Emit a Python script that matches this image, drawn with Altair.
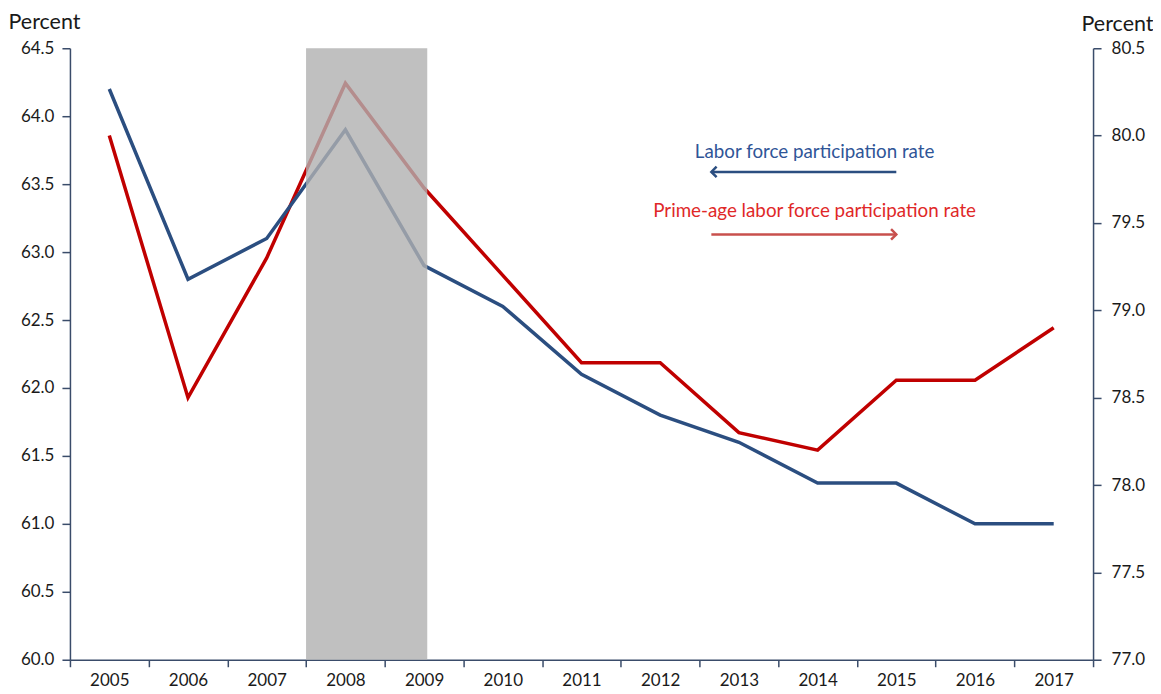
import altair as alt
import pandas as pd

years = [2005, 2006, 2007, 2008, 2009, 2010, 2011, 2012, 2013, 2014, 2015, 2016, 2017]
lfpr = [64.2, 62.8, 63.1, 63.9, 62.9, 62.6, 62.1, 61.8, 61.6, 61.3, 61.3, 61.0, 61.0]
prime_age = [80.0, 78.5, 79.3, 80.3, 79.7, 79.2, 78.7, 78.7, 78.3, 78.2, 78.6, 78.6, 78.9]

recession_start = [2008]
recession_end = [2009]

left_ticks = [60.0, 60.5, 61.0, 61.5, 62.0, 62.5, 63.0, 63.5, 64.0, 64.5]
right_ticks = [77.0, 77.5, 78.0, 78.5, 79.0, 79.5, 80.0, 80.5]

blue_label = "Labor force participation rate"
red_label = "Prime-age labor force participation rate"

FONT = "Lato"
BLUE = "#2B4E80"
RED = "#C00000"
AXIS = "#3A4C6A"

W, H = 1024, 612

df = pd.DataFrame({"year": years, "lfpr": lfpr, "prime": prime_age})
rec = pd.DataFrame({"start": recession_start, "end": recession_end})

x_enc = alt.X(
    "year:O",
    title=None,
    scale=alt.Scale(paddingInner=0, paddingOuter=0),
    axis=alt.Axis(
        labelAngle=0, tickBand="extent", domainColor=AXIS, tickColor=AXIS,
        tickSize=7, labelFontSize=17, labelFont=FONT, labelColor="#1a1a1a",
        labelPadding=6, grid=False, domainWidth=1.5, tickWidth=1.5,
    ),
)

left_axis = alt.Axis(
    orient="left", values=left_ticks, format=".1f", grid=False,
    domainColor=AXIS, tickColor=AXIS, tickSize=8, labelFontSize=17,
    labelFont=FONT, labelColor="#1a1a1a", labelPadding=8,
    domainWidth=1.5, tickWidth=1.5,
    title="Percent", titleAngle=0, titleFont=FONT, titleFontSize=21.5,
    titleFontWeight="normal", titleColor="#1a1a1a", titleAlign="left",
    titleX=-62, titleY=-20, titleBaseline="alphabetic",
)
right_axis = alt.Axis(
    orient="right", values=right_ticks, format=".1f", grid=False,
    domainColor=AXIS, tickColor=AXIS, tickSize=8, labelFontSize=17,
    labelFont=FONT, labelColor="#1a1a1a", labelPadding=10,
    domainWidth=1.5, tickWidth=1.5,
    title="Percent", titleAngle=0, titleFont=FONT, titleFontSize=21.5,
    titleFontWeight="normal", titleColor="#1a1a1a", titleAlign="right",
    titleX=60, titleY=-18, titleBaseline="alphabetic",
)

red_line = alt.Chart(df).mark_line(color=RED, strokeWidth=3.5).encode(
    x=x_enc,
    y=alt.Y("prime:Q", scale=alt.Scale(domain=[77.0, 80.5], nice=False, zero=False), axis=right_axis),
)

blue_line = alt.Chart(df).mark_line(color=BLUE, strokeWidth=3.5).encode(
    x=x_enc,
    y=alt.Y("lfpr:Q", scale=alt.Scale(domain=[60.0, 64.5], nice=False, zero=False), axis=left_axis),
)

shade = alt.Chart(rec).mark_rect(color="#B0B0B0", opacity=0.8).encode(
    x=alt.X("start:O", bandPosition=0),
    x2=alt.X2("end", bandPosition=0.54),
    y=alt.datum(64.5),
    y2=alt.datum(60.0),
)

ann_text = pd.DataFrame({
    "year": [2014, 2014],
    "val": [63.74, 63.30],
    "label": [blue_label, red_label],
    "color": ["#2F5597", "#E02828"],
})
texts = alt.Chart(ann_text).mark_text(font=FONT, fontSize=18.8, baseline="middle", dx=-3).encode(
    x=alt.X("year:O"),
    y=alt.Y("val:Q"),
    text="label:N",
    color=alt.Color("color:N", scale=None),
)

arrows = pd.DataFrame({
    "a": [2015, 2013],
    "b": [2013, 2015],
    "val": [63.59, 63.13],
})
blue_rule = alt.Chart(arrows.iloc[[0]]).mark_rule(strokeWidth=2.5, color=BLUE).encode(
    x=alt.X("a:O", bandPosition=0.5),
    x2=alt.X2("b", bandPosition=0.15),
    y=alt.Y("val:Q"),
)
red_rule = alt.Chart(arrows.iloc[[1]]).mark_rule(strokeWidth=2.5, color="#C8504D").encode(
    x=alt.X("a:O", bandPosition=0.15),
    x2=alt.X2("b", bandPosition=0.5),
    y=alt.Y("val:Q"),
)
blue_head = alt.Chart(arrows.iloc[[0]]).mark_point(
    shape="M 1 -1 L 0 0 L 1 1", filled=False, strokeWidth=2.5, color=BLUE, size=110, opacity=1
).encode(
    x=alt.X("b:O", bandPosition=0.15),
    y=alt.Y("val:Q"),
)
red_head = alt.Chart(arrows.iloc[[1]]).mark_point(
    shape="M -1 -1 L 0 0 L -1 1", filled=False, strokeWidth=2.5, color="#C8504D", size=110, opacity=1
).encode(
    x=alt.X("b:O", bandPosition=0.5),
    y=alt.Y("val:Q"),
)

left_layer = alt.layer(blue_line, shade, texts, blue_rule, red_rule, blue_head, red_head)

chart = alt.layer(red_line, left_layer).resolve_scale(y="independent").properties(
    width=W, height=H,
    background="white",
    autosize=alt.AutoSizeParams(type="none"),
    padding={"left": 62, "top": 40, "right": 60, "bottom": 30},
).configure_view(stroke=None, strokeWidth=0)

chart.save("out.html", embed_options={"renderer": "svg", "actions": False})
